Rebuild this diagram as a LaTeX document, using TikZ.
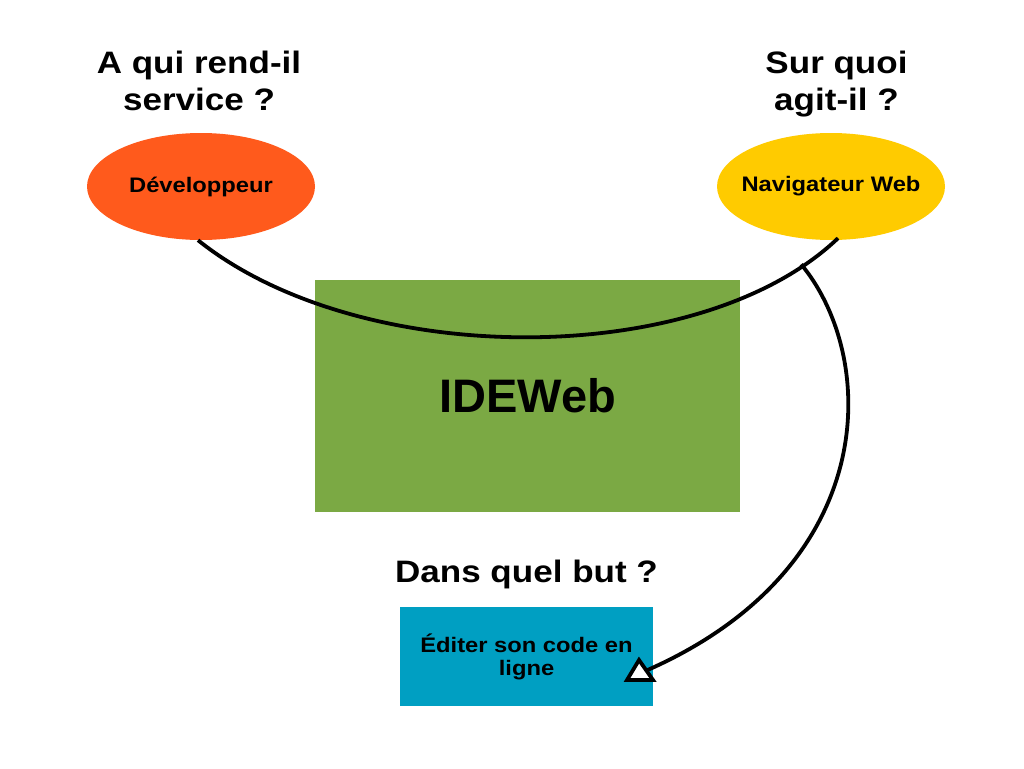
\documentclass[tikz,border=0pt]{standalone}
\usepackage{fontspec}
\setmainfont{Liberation Sans}
\newfontfamily\widesans[FakeStretch=1.13]{Liberation Sans}
\usetikzlibrary{shapes.geometric}
\definecolor{devorange}{HTML}{FF5A1C}
\definecolor{navyellow}{HTML}{FFCB00}
\definecolor{idegreen}{HTML}{7BA944}
\definecolor{goalblue}{HTML}{009FC2}
\tikzset{
  title/.style={font=\widesans\bfseries\fontsize{31}{37}\selectfont, align=center, anchor=base, inner sep=0pt},
  actor/.style={ellipse, minimum width=228pt, minimum height=107pt, inner xsep=-20pt, inner ysep=0pt,
                font=\widesans\bfseries\fontsize{21}{23}\selectfont},
  link/.style={line width=3.8pt, black},
}
\begin{document}
\begin{tikzpicture}[x=1pt,y=-1pt]
\useasboundingbox (0,0) rectangle (1024,768);
\fill[white] (0,0) rectangle (1024,768);

\node[title] (q1) at (199,110) {A qui rend-il\\service ?};
\node[title] (q2) at (836.5,110) {Sur quoi\\agit-il ?};
\node[title] (q3) at (526.5,582) {Dans quel but ?};

\node[actor, fill=devorange] (dev) at (201,186.5) {Développeur};
\node[actor, fill=navyellow] (nav) at (831,186.5) {Navigateur Web};

\node[fill=idegreen, minimum width=425pt, minimum height=232pt, inner sep=0pt,
      font=\bfseries\fontsize{47}{50}\selectfont] (ide) at (527.5,396) {IDEWeb};

\node[fill=goalblue, minimum width=253pt, minimum height=99pt, inner sep=0pt, align=center,
      font=\widesans\bfseries\fontsize{21}{23}\selectfont] (goal) at (526.5,656.5) {Éditer son code en\\ligne};

\coordinate (tip) at (643,672);

\draw[link] ([xshift=-3pt]dev.south) .. controls (360,370) and (700,370) .. ([xshift=7pt,yshift=2pt]nav.south)
  coordinate[pos=0.92] (junction);
\draw[link] ([yshift=3pt]junction) .. controls (880,360) and (880,570) .. (tip);
\draw[link, fill=white, line join=miter] ([xshift=-16pt,yshift=-8pt]tip) -- ([xshift=-4pt,yshift=12pt]tip) -- ([xshift=10pt,yshift=-8pt]tip) -- cycle;
\end{tikzpicture}
\end{document}
